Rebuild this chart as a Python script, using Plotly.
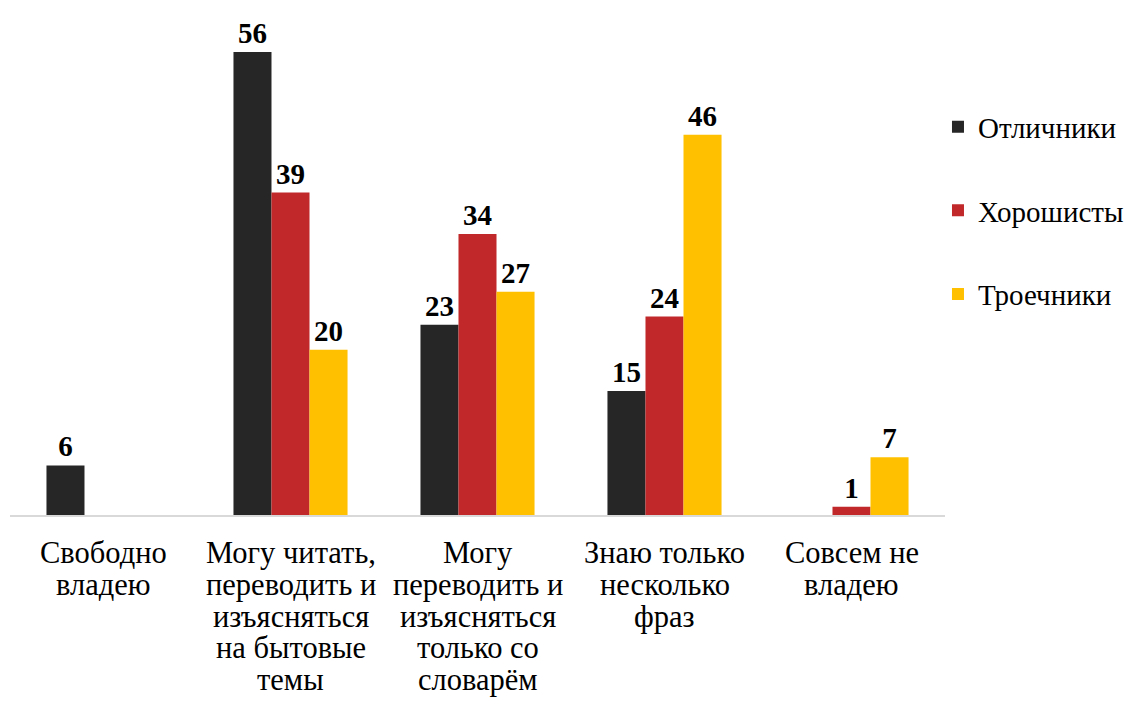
import plotly.graph_objects as go

category_lines = [
    ["Свободно", "владею"],
    ["Могу читать,", "переводить и", "изъясняться", "на бытовые", "темы"],
    ["Могу", "переводить и", "изъясняться", "только со", "словарём"],
    ["Знаю только", "несколько", "фраз"],
    ["Совсем не", "владею"],
]
categories = [" ".join(lines) for lines in category_lines]
series_names = ["Отличники", "Хорошисты", "Троечники"]
otlichniki = [6, 56, 23, 15, None]
horoshisty = [None, 39, 34, 24, 1]
troechniki = [None, 20, 27, 46, 7]
colors = ["#262626", "#C0282A", "#FFC000"]

FONT = "Liberation Serif"
fig = go.Figure()
for i, (name, vals) in enumerate(zip(series_names, [otlichniki, horoshisty, troechniki])):
    fig.add_trace(go.Bar(
        x=categories, y=vals, name=name, marker_color=colors[i],
        marker_line_width=0,
        text=[str(v) if v is not None else "" for v in vals],
        textposition="outside", cliponaxis=False,
        textfont=dict(family=FONT, size=29, color="black", weight="bold"),
        legendgroup=name,
    ))

# multi-line category labels with tight line spacing
for cat, lines in zip(categories, category_lines):
    for k, line in enumerate(lines):
        fig.add_annotation(x=cat, xref="x", y=0, yref="paper", text=line,
                           showarrow=False, xanchor="center", yanchor="middle",
                           yshift=-(38 + 31.8 * k),
                           font=dict(family=FONT, size=30.5, color="black"))

fig.update_layout(
    width=1128, height=693,
    margin=dict(l=2, r=191, t=44, b=186),
    paper_bgcolor="white", plot_bgcolor="white",
    barmode="group", bargap=0.39, bargroupgap=0,
    font=dict(family=FONT, size=29, color="black"),
    showlegend=True,
    legend=dict(x=0.9925, xanchor="left", y=0.657, yanchor="middle",
                font=dict(family=FONT, size=29, color="black"),
                traceorder="grouped", tracegroupgap=43, itemwidth=30),
    xaxis=dict(showline=True, linecolor="#D9D9D9", linewidth=1.5, ticks="",
               showticklabels=False),
    yaxis=dict(range=[0, 56], visible=False, showgrid=False),
)
fig.write_html("out.html")
